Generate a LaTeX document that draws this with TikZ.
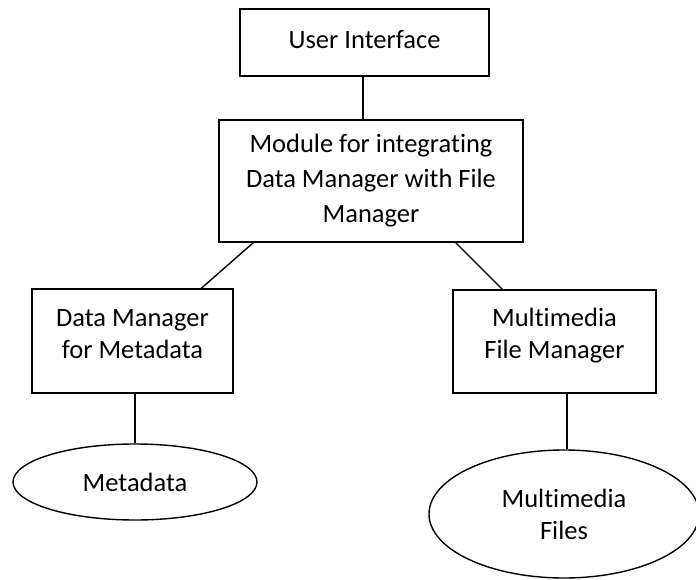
\documentclass[tikz,border=0pt]{standalone}
\usepackage{fontspec}
\setmainfont{Carlito}[Ligatures=NoCommon]
\usepackage{tikz}
\usetikzlibrary{shapes.geometric, positioning}

\begin{document}
\begin{tikzpicture}[x=1pt, y=-1pt,
    words/.style={align=center, inner sep=0pt, font=\fontsize{26.5}{32}\selectfont},
    box/.style={draw, line width=1.4pt, words},
    oval/.style={draw, ellipse, line width=1.4pt, words},
    link/.style={line width=1.4pt}]
    \useasboundingbox (0,0) rectangle (696,580);

    % Top level
    \node[box, minimum width=249pt, minimum height=67pt,
          label={[words, yshift=3pt]center:User Interface}] (ui) at (364.5,42.5) {};
    \node[box, minimum width=304pt, minimum height=122pt, font=\fontsize{26.5}{35}\selectfont] (mod) at (371,181) {Module for integrating\\Data Manager with File\\Manager};

    % Managers
    \node[box, minimum width=201pt, minimum height=104pt,
          label={[words, yshift=7pt]center:{Data Manager\\for Metadata}}] (dm) at (132.5,341) {};
    \node[box, minimum width=203pt, minimum height=103pt,
          label={[words, yshift=6pt]center:{Multimedia\\File Manager}}] (mfm) at (554.5,341.5) {};

    % Stores
    \node[oval, minimum width=244pt, minimum height=76pt] (meta) at (135,482) {Metadata};
    \node[oval, minimum width=270pt, minimum height=128pt] (mfiles) at (564,514) {Multimedia\\Files};

    % Links
    \draw[link] ([xshift=-1.5pt]ui.south) -- ([xshift=-1.5pt]ui.south |- mod.north);
    \draw[link] ([xshift=35pt]mod.south west) -- ([xshift=170pt]dm.north west);
    \draw[link] ([xshift=-68pt]mod.south east) -- ([xshift=50pt]mfm.north west);
    \draw[link] (meta.north |- dm.south) -- (meta.north);
    \draw[link] ([xshift=3pt]mfiles.north |- mfm.south) -- ([xshift=3pt]mfiles.north);
\end{tikzpicture}
\end{document}
